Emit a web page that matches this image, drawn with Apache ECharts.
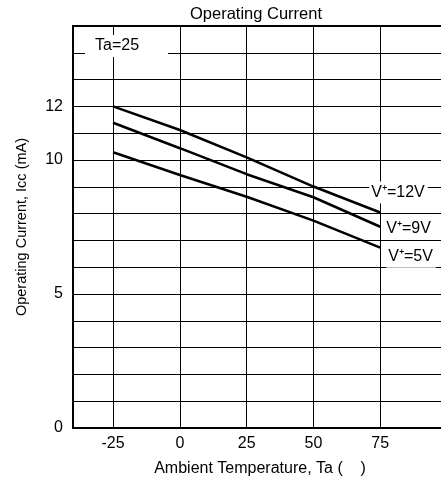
<!DOCTYPE html>
<html>
<head>
<meta charset="utf-8">
<script src="https://cdn.jsdelivr.net/npm/echarts@6/dist/echarts.min.js"></script>
<style>html,body{margin:0;padding:0;background:#fff}#c{width:441px;height:486px}</style>
</head>
<body>
<div id="c"></div>
<script>
const temps = [-25, 0, 25, 50, 75];
const icc12V = [12.0, 11.12, 10.1, 9.01, 8.04];
const icc9V = [11.39, 10.44, 9.47, 8.61, 7.51];
const icc5V = [10.29, 9.44, 8.63, 7.74, 6.73];
const xTicks = [-25, 0, 25, 50, 75];
const yLabels = [0, 5, 10, 12];
const seriesNames = ['V⁺=12V', 'V⁺=9V', 'V⁺=5V'];

const FONT = '"Liberation Sans", Arial, Helvetica, sans-serif';
const chart = echarts.init(document.getElementById('c'), null, {renderer: 'canvas'});

function mk(name, vals, offset) {
  return {
    type: 'line', name: name,
    data: temps.map((t, i) => [t, vals[i]]),
    symbol: 'none', smooth: false,
    lineStyle: {color: '#000', width: 2.5},
    endLabel: {
      show: true, formatter: name, color: '#000', fontSize: 16, fontFamily: FONT,
      backgroundColor: '#fff', padding: [3, 3, 3, 2], offset: offset, distance: 5
    },
    z: 3
  };
}

chart.setOption({
  animation: false,
  backgroundColor: '#fff',
  title: {
    text: 'Operating Current', left: 251, top: 1, textAlign: 'center',
    textStyle: {fontSize: 16.5, fontWeight: 'normal', color: '#000', fontFamily: FONT}
  },
  grid: {left: 73, top: 26, width: 374, bottom: 58, outerBoundsMode: 'none', containLabel: false,
    show: true, borderColor: '#000', borderWidth: 2, backgroundColor: 'transparent'},
  xAxis: {
    type: 'value', min: -40, max: 100,
    name: 'Ambient Temperature, Ta (    )', nameLocation: 'middle', nameGap: 33,
    nameTextStyle: {fontSize: 16, color: '#000', fontFamily: FONT},
    axisLine: {show: true, onZero: false, lineStyle: {color: '#000', width: 2}},
    axisTick: {show: false, customValues: xTicks},
    axisLabel: {customValues: xTicks, color: '#000', fontSize: 16, fontFamily: FONT, margin: 8},
    splitLine: {show: true, lineStyle: {color: '#000', width: 1}}
  },
  yAxis: {
    type: 'value', min: 0, max: 15, interval: 1,
    name: 'Operating Current, Icc (mA)', nameLocation: 'middle', nameGap: 44, nameRotate: 90,
    nameTextStyle: {fontSize: 14.5, color: '#000', fontFamily: FONT},
    axisLine: {show: true, onZero: false, lineStyle: {color: '#000', width: 2}},
    axisTick: {show: false},
    axisLabel: {
      color: '#000', fontSize: 16, fontFamily: FONT, margin: 10,
      formatter: v => yLabels.indexOf(v) >= 0 ? String(v) : ''
    },
    splitLine: {show: true, lineStyle: {color: '#000', width: 1}}
  },
  graphic: [{
    type: 'text', left: 85, top: 35, z: 10,
    style: {text: 'Ta=25', fill: '#000', font: '16px ' + FONT, backgroundColor: '#fff', padding: [3, 29, 3, 10]}
  }],
  series: [
    mk(seriesNames[0], icc12V, [-16, -20]),
    mk(seriesNames[1], icc9V, [-1, 2]),
    mk(seriesNames[2], icc5V, [1, 9])
  ]
});
</script>
</body>
</html>
